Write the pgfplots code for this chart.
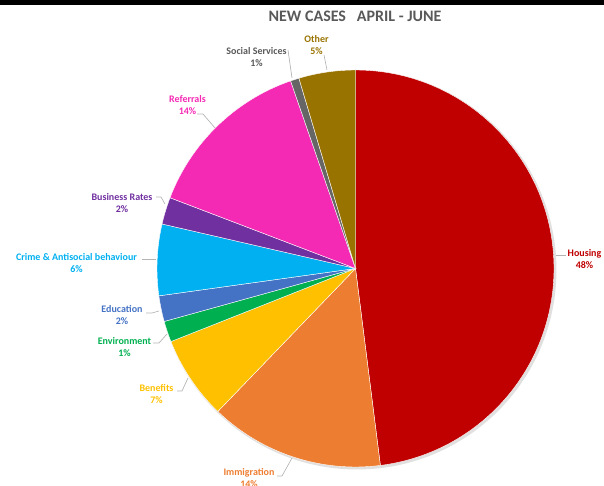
\documentclass[border=0pt]{standalone}
\usepackage{pgfplots}
\usepackage{pgfplotstable}
\usepackage{fontspec}
\setmainfont{Carlito}
\pgfplotsset{compat=1.18}

\definecolor{cHousing}{HTML}{C00000}
\definecolor{cImmig}{HTML}{ED7D31}
\definecolor{cBenef}{HTML}{FFC000}
\definecolor{cEnv}{HTML}{00B050}
\definecolor{cEdu}{HTML}{4472C4}
\definecolor{cCrime}{HTML}{00B0F0}
\definecolor{cBiz}{HTML}{7030A0}
\definecolor{cRef}{HTML}{F429B4}
\definecolor{cSoc}{HTML}{666666}
\definecolor{cOther}{HTML}{997300}
\definecolor{cTitle}{HTML}{595959}
\definecolor{cLead}{HTML}{B4B4B4}

% share of new cases, clockwise from the top
\pgfplotstableread{
value col
48.0  cHousing
14.2  cImmig
6.8   cBenef
1.7   cEnv
2.1   cEdu
5.8   cCrime
2.2   cBiz
13.9  cRef
0.7   cSoc
4.6   cOther
}\piedata

\newcommand\cx{355.5}
\newcommand\cy{217.5}
\newcommand\rr{198.5}

\tikzset{lbl/.style={font=\fontsize{7.5}{9}\selectfont\bfseries, align=center, inner sep=0pt}}

\begin{document}
\begin{tikzpicture}
\begin{axis}[
    name=ax,
    hide axis,
    x=0.75pt, y=0.75pt,
    xmin=0, xmax=604, ymin=0, ymax=486,
    clip=false,
]
% strip along the top of the screenshot
\fill[black] (axis cs:0,481) rectangle (axis cs:604,486);

% soft shadow
\fill[black!12] (axis cs:\cx+1.5,\cy-1.5) circle[radius=149.6pt];

\pgfmathsetmacro\cum{0}
\pgfplotsforeachungrouped \i in {0,...,9}{
  \pgfplotstablegetelem{\i}{value}\of\piedata \let\v=\pgfplotsretval
  \pgfplotstablegetelem{\i}{col}\of\piedata \let\c=\pgfplotsretval
  \pgfmathsetmacro\aS{90-3.6*\cum}
  \pgfmathsetmacro\aE{90-3.6*(\cum+\v)}
  \edef\slice{\noexpand\filldraw[fill=\c, draw=white, line width=0.3pt]
    (axis cs:\cx,\cy) -- (axis cs:{\cx+\rr*cos(\aS)},{\cy+\rr*sin(\aS)})
    arc[start angle=\aS, end angle=\aE, radius=148.875pt] -- cycle;}
  \slice
  \pgfmathsetmacro\cum{\cum+\v}
}

% leader lines
\begin{scope}[cLead, line width=0.5pt]
\draw (axis cs:556,231) -- (axis cs:566,231);
\draw (axis cs:324,431) -- (axis cs:327,416);
\draw (axis cs:288,436) -- (axis cs:292,408);
\draw (axis cs:197,372) -- (axis cs:203,372) -- (axis cs:215,358);
\draw (axis cs:156,289) -- (axis cs:161,289) -- (axis cs:165,282);
\draw (axis cs:142,227) -- (axis cs:156,227);
\draw (axis cs:146,173) -- (axis cs:152,173) -- (axis cs:159,175);
\draw (axis cs:153,143) -- (axis cs:159,143) -- (axis cs:167,152);
\draw (axis cs:177,95) -- (axis cs:182,95) -- (axis cs:188,108);
\draw (axis cs:277,10) -- (axis cs:282,10) -- (axis cs:292,28);
\end{scope}

% labels
\node[lbl, text=cHousing] at (axis cs:584.5,227) {Housing\\48\%};
\node[lbl, text=cImmig] at (axis cs:249,8) {Immigration\\14\%};
\node[lbl, text=cBenef] at (axis cs:156.5,92) {Benefits\\7\%};
\node[lbl, text=cEnv] at (axis cs:124.5,139) {Environment\\1\%};
\node[lbl, text=cEdu] at (axis cs:122,170.5) {Education\\2\%};
\node[lbl, text=cCrime] at (axis cs:76.5,223) {Crime \& Antisocial behaviour\\6\%};
\node[lbl, text=cBiz] at (axis cs:122,283) {Business Rates\\2\%};
\node[lbl, text=cRef] at (axis cs:187.5,381) {Referrals\\14\%};
\node[lbl, text=cTitle] at (axis cs:256.5,428.5) {Social Services\\1\%};
\node[lbl, text=cOther] at (axis cs:316.5,440.5) {Other\\5\%};

\node[text=cTitle, inner sep=0pt, font=\fontsize{12}{14}\selectfont\bfseries] at (axis cs:355,470)
  {NEW CASES\ \ \ APRIL - JUNE};
\end{axis}
\pgfresetboundingbox
\path[use as bounding box] (ax.south west) rectangle (ax.north east);
\end{tikzpicture}
\end{document}
